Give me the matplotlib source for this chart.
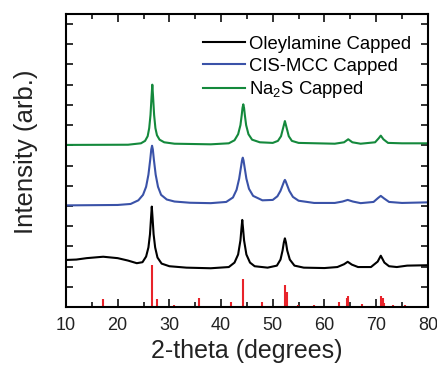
import numpy as np
import matplotlib
matplotlib.use('Agg')
import matplotlib.pyplot as plt

plt.rcParams['font.family'] = ['Liberation Sans', 'DejaVu Sans']
plt.rcParams['mathtext.fontset'] = 'custom'
plt.rcParams['mathtext.rm'] = 'Liberation Sans'
plt.rcParams['mathtext.it'] = 'Liberation Sans'

# ── Donnees (offsets verticaux inclus) ────────────────────────
x_oleyl = [10, 12, 14, 17.2, 20, 22, 23.7, 24.8, 25.5, 25.95, 26.25, 26.45,
           26.6, 26.75, 26.95, 27.25, 27.7, 28.5, 30, 33.3, 38, 41.5, 42.6,
           43.3, 43.75, 43.95, 44.1, 44.25, 44.45, 44.9, 45.6, 46.5, 49, 50.8,
           51.5, 51.9, 52.15, 52.35, 52.55, 52.8, 53.3, 54.2, 56, 60, 62.5,
           63.8, 64.5, 65.3, 66.5, 69, 70.3, 70.9, 71.6, 72.5, 74, 76, 80]
y_oleyl = [2.33, 2.35, 2.42, 2.49, 2.42, 2.30, 2.17, 2.22, 2.50, 2.95, 3.60,
           4.40, 4.97, 4.40, 3.60, 2.95, 2.45, 2.15, 2.02, 1.95, 1.92, 1.98,
           2.20, 2.60, 3.30, 3.90, 4.31, 3.90, 3.30, 2.60, 2.20, 2.02, 1.95,
           2.05, 2.35, 2.80, 3.20, 3.40, 3.20, 2.80, 2.35, 2.05, 1.95, 1.93,
           1.98, 2.12, 2.24, 2.10, 1.98, 1.98, 2.25, 2.54, 2.20, 2.02, 1.98,
           2.05, 2.07]

x_cis = [10, 20, 22.5, 24, 24.9, 25.5, 25.95, 26.3, 26.5, 26.65, 26.8, 27.0,
         27.35, 27.8, 28.4, 29.5, 31, 34, 38, 41, 42.3, 43.0, 43.5, 43.9,
         44.05, 44.2, 44.35, 44.5, 44.9, 45.4, 46.2, 48, 50, 50.9, 51.5, 51.95,
         52.2, 52.35, 52.5, 52.75, 53.2, 53.9, 55, 58, 62, 63.5, 64.5, 65.5,
         67, 69.5, 70.4, 70.9, 71.5, 72.5, 75, 80]
y_cis = [5.03, 5.05, 5.10, 5.28, 5.55, 5.95, 6.55, 7.30, 7.80, 7.98, 7.80,
         7.30, 6.55, 5.95, 5.55, 5.32, 5.22, 5.16, 5.14, 5.20, 5.42, 5.80,
         6.35, 7.00, 7.25, 7.39, 7.25, 7.00, 6.35, 5.85, 5.50, 5.28, 5.30,
         5.48, 5.75, 6.05, 6.22, 6.29, 6.22, 6.05, 5.75, 5.45, 5.26, 5.15,
         5.15, 5.22, 5.30, 5.22, 5.14, 5.20, 5.40, 5.50, 5.38, 5.20, 5.15,
         5.18]

x_na2s = [10, 22, 24.5, 25.3, 25.8, 26.1, 26.35, 26.55, 26.7, 26.85, 27.05,
          27.3, 27.6, 28.1, 29, 31, 38, 41.5, 42.6, 43.3, 43.75, 44.0, 44.15,
          44.3, 44.45, 44.6, 44.85, 45.3, 46.0, 47.5, 50, 51.0, 51.6, 51.95,
          52.2, 52.35, 52.5, 52.75, 53.1, 53.7, 55, 62, 63.8, 64.6, 65.4, 67,
          69.8, 70.5, 70.9, 71.4, 72.3, 75, 80]
y_na2s = [8.02, 8.03, 8.10, 8.22, 8.45, 8.85, 9.50, 10.40, 11.00, 10.40, 9.50,
          8.85, 8.50, 8.28, 8.15, 8.08, 8.05, 8.10, 8.25, 8.55, 9.00, 9.50,
          9.85, 10.03, 9.85, 9.50, 9.00, 8.55, 8.28, 8.15, 8.12, 8.22, 8.45,
          8.80, 9.05, 9.20, 9.05, 8.80, 8.45, 8.22, 8.12, 8.08, 8.15, 8.30,
          8.15, 8.08, 8.15, 8.35, 8.48, 8.30, 8.12, 8.10, 8.10]

# Raies de reference (batonnets rouges)
ref_pos = [17.1, 26.6, 27.7, 30.95, 35.7, 42.0, 44.3, 47.85, 52.35, 52.8,
           54.9, 58.0, 62.8, 64.3, 64.6, 67.2, 70.9, 71.3, 71.6, 73.3, 75.6, 80]
ref_int = [0.40, 2.06, 0.40, 0.12, 0.45, 0.23, 1.40, 0.23, 1.10, 0.75,
           0.08, 0.08, 0.23, 0.47, 0.53, 0.15, 0.57, 0.45, 0.20, 0.08, 0.08, 0.10]

labels = ['Oleylamine Capped', 'CIS-MCC Capped', 'Na$_2$S Capped']
colors = ['#000000', '#3a52a8', '#14893c']

# ── Graphe ────────────────────────────────────────────────────
fig = plt.figure(figsize=(4.37, 3.66), dpi=100)
ax = fig.add_axes([0.151, 0.161, 0.828, 0.801])

for xs, ys, lab, col in zip([x_oleyl, x_cis, x_na2s], [y_oleyl, y_cis, y_na2s],
                            labels, colors):
    ax.plot(xs, ys, color=col, linewidth=1.5, label=lab)

ax.vlines(ref_pos, 0, ref_int, color='#e8232a', linewidth=1.5)

ax.set_xlim(10, 80)
ax.set_ylim(0, 14.5)
ax.set_xticks(np.arange(10, 81, 10))
ax.set_xticks(np.arange(15, 80, 10), minor=True)
ax.set_yticks(np.arange(1, 15, 1))
ax.set_yticklabels([])
ax.tick_params(axis='both', which='both', direction='in',
               top=True, right=True, width=1.3, labelsize=13, colors='#222222')
ax.tick_params(axis='x', which='major', length=6, pad=7)
ax.tick_params(axis='x', which='minor', length=3.5)
ax.tick_params(axis='y', which='major', length=5)
for sp in ax.spines.values():
    sp.set_linewidth(1.5)

ax.set_xlabel('2-theta (degrees)', fontsize=18, color='#222222', labelpad=4)
ax.set_ylabel('Intensity (arb.)', fontsize=18.5, color='#222222')
ax.yaxis.set_label_coords(-0.078, 0.53)

ax.legend(loc='upper left', bbox_to_anchor=(0.378, 0.925), frameon=False,
          fontsize=13.3, handlelength=2.3, handletextpad=0.2, labelspacing=0.25,
          borderpad=0, borderaxespad=0)

plt.savefig('out.png', dpi=100)
plt.close()
